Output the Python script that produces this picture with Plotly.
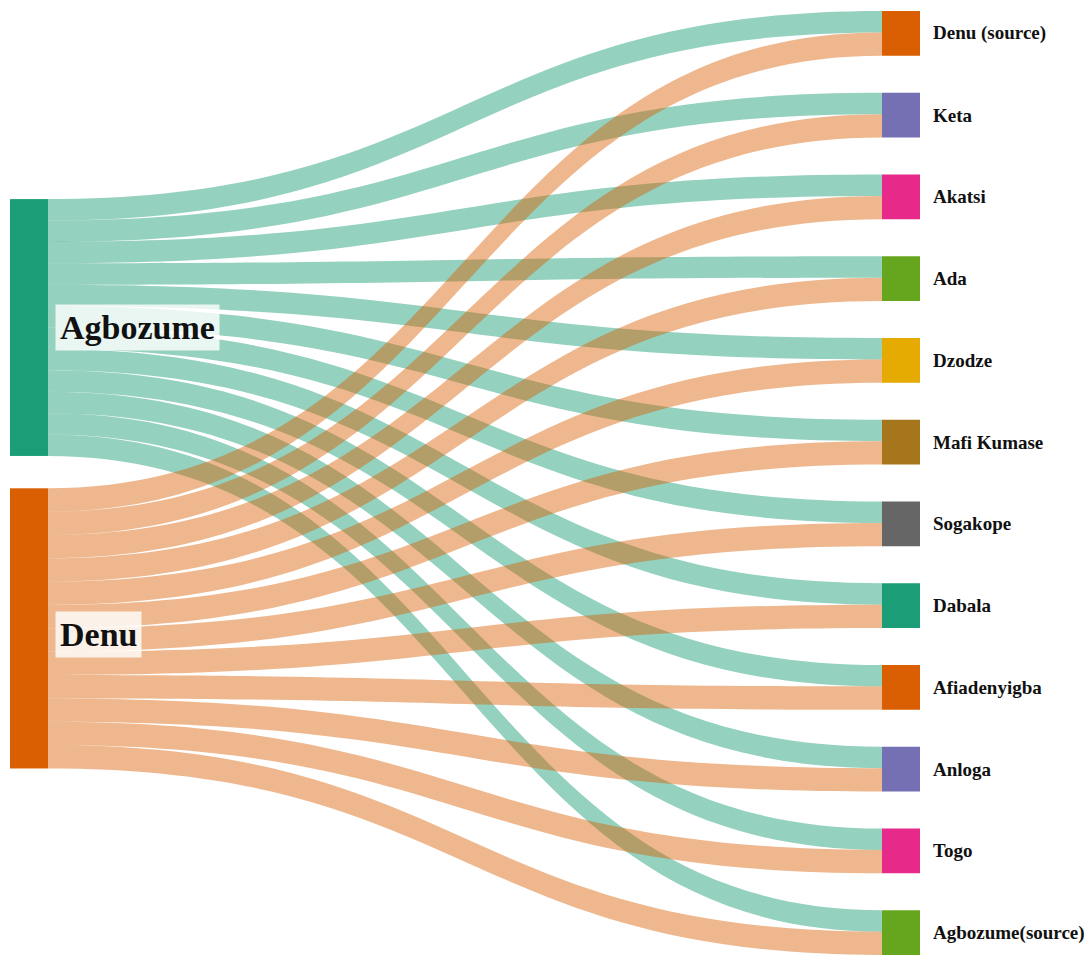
import plotly.graph_objects as go

# ---- data ----
sources = ["Agbozume", "Denu"]
targets = ["Denu (source)", "Keta", "Akatsi", "Ada", "Dzodze", "Mafi Kumase",
           "Sogakope", "Dabala", "Afiadenyigba", "Anloga", "Togo", "Agbozume(source)"]
agbozume_values = [11, 11, 11, 11, 11, 11, 11, 11, 11, 11, 11, 11]
denu_values = [12, 12, 12, 12, 12, 12, 12, 12, 12, 12, 12, 12]

# ---- styles / layout ----
W, H = 1091, 956
M = dict(l=10, r=171, t=11, b=1)
THICK = 38
PAD = 37
source_colors = ["#1b9e77", "#d95f02"]
target_colors = ["#d95f02", "#7570b3", "#e7298a", "#66a61e", "#e6ab02", "#a6761d",
                 "#666666", "#1b9e77", "#d95f02", "#7570b3", "#e7298a", "#66a61e"]
link_colors = ["rgba(27,158,119,0.47)", "rgba(217,95,2,0.45)"]
source_y = [0.3353, 0.654]          # vertical centre of each source node (fraction of plot height)
label_yshift = [0, -6]

labels = sources + targets
node_colors = source_colors + target_colors

src, tgt, val, col = [], [], [], []
for si, vals in enumerate([agbozume_values, denu_values]):
    for ti, v in enumerate(vals):
        src.append(si)
        tgt.append(len(sources) + ti)
        val.append(v)
        col.append(link_colors[si])

plot_w = W - M["l"] - M["r"]
plot_h = H - M["t"] - M["b"]
src_x = [0.5 * THICK / plot_w] * len(sources)

fig = go.Figure(go.Sankey(
    arrangement="fixed",
    node=dict(label=[""] * len(labels), customdata=labels,
              hovertemplate="%{customdata}: %{value}<extra></extra>",
              color=node_colors, thickness=THICK, pad=PAD,
              line=dict(width=0), x=src_x, y=source_y),
    link=dict(source=src, target=tgt, value=val, color=col),
))

font_big = dict(family="Liberation Serif", size=34, color="#111111", weight="bold")
font_small = dict(family="Liberation Serif", size=19, color="#111111", weight="bold")

annotations = []
for name, yc, ys in zip(sources, source_y, label_yshift):
    annotations.append(dict(text=name, xref="paper", yref="paper", x=0, y=1 - yc,
                            xanchor="left", yanchor="middle", xshift=THICK + 7,
                            yshift=ys, showarrow=False, font=font_big,
                            bgcolor="rgba(255,255,255,0.8)", borderpad=4))

# right-hand labels: node centres of the equally spaced target column
n = len(targets)
h = (plot_h - (n - 1) * PAD) / n
for k, name in enumerate(targets):
    yc = (k * (h + PAD) + h / 2) / plot_h
    annotations.append(dict(text=name, xref="paper", yref="paper", x=1, y=1 - yc,
                            xanchor="left", yanchor="middle", xshift=11,
                            showarrow=False, font=font_small))

fig.update_layout(width=W, height=H, margin=M, paper_bgcolor="white",
                  annotations=annotations)
fig.write_html("out.html", config={"displayModeBar": False},
               post_script="document.body.style.margin='0';")
